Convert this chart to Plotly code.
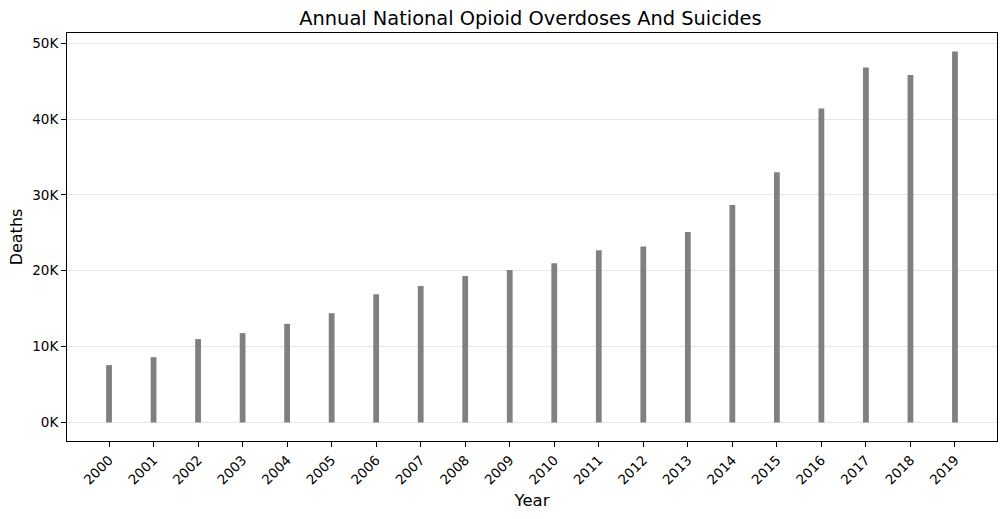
import plotly.graph_objects as go

years = [str(y) for y in range(2000, 2020)]
deaths = [7560, 8610, 10990, 11780, 13000, 14400, 16900, 17980, 19300, 20100,
          21000, 22700, 23200, 25100, 28660, 33000, 41400, 46800, 45800, 48900]
y_tickvals = [0, 10000, 20000, 30000, 40000, 50000]
y_ticktext = ["0K", "10K", "20K", "30K", "40K", "50K"]

x_idx = list(range(len(years)))

fig = go.Figure()
fig.add_trace(go.Bar(
    x=x_idx, y=deaths, width=0.13,
    marker=dict(color="#808080", line=dict(width=0)),
    hovertext=years,
))

font_family = "DejaVu Sans"
fig.update_layout(
    width=1006, height=519,
    margin=dict(l=67, r=9, t=33, b=78),
    paper_bgcolor="white", plot_bgcolor="white",
    font=dict(family=font_family, color="black", size=13.5),
    showlegend=False,
    title=dict(text="Annual National Opioid Overdoses And Suicides",
               x=0.5273, xanchor="center", y=1 - 18 / 519, yanchor="middle",
               font=dict(size=19.4, family=font_family, color="black")),
    xaxis=dict(
        range=[-0.944, 19.944], tickmode="array", tickvals=x_idx, ticktext=years,
        tickangle=-45, ticks="outside", ticklen=5, tickwidth=1, tickcolor="black",
        showline=True, linecolor="black", linewidth=1, mirror=True,
        showgrid=False, zeroline=False,
        title=dict(text="Year", font=dict(size=16.5, family=font_family), standoff=7),
    ),
    yaxis=dict(
        range=[-2445, 51345], tickmode="array", tickvals=y_tickvals, ticktext=y_ticktext,
        ticks="outside", ticklen=5, tickwidth=1, tickcolor="black",
        showline=True, linecolor="black", linewidth=1, mirror=True,
        showgrid=True, gridcolor="#e6e6e6", gridwidth=1, zeroline=False,
        title=dict(text="Deaths", font=dict(size=16, family=font_family), standoff=5),
    ),
)

fig.write_html("out.html")
